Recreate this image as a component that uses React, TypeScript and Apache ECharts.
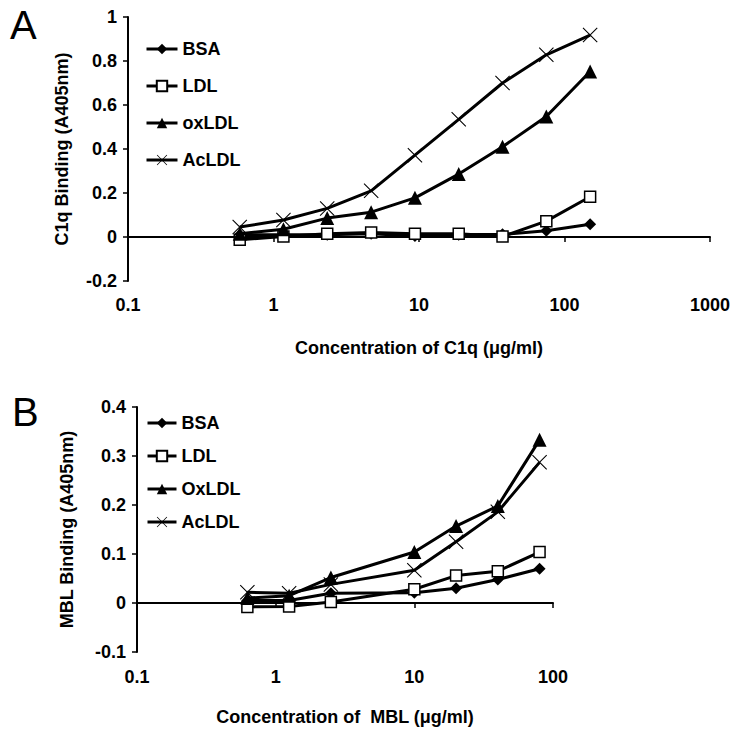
import React, { useEffect, useRef } from "react";
import * as echarts from "echarts";

const concA = [0.586, 1.17, 2.34, 4.69, 9.38, 18.75, 37.5, 75, 150];
const bsaA = [0.01, 0.01, 0.01, 0.015, 0.005, 0.01, 0.012, 0.028, 0.058];
const ldlA = [-0.012, 0.002, 0.015, 0.02, 0.015, 0.015, 0.002, 0.072, 0.183];
const oxA = [0.015, 0.035, 0.086, 0.113, 0.178, 0.286, 0.41, 0.548, 0.752];
const acA = [0.045, 0.077, 0.13, 0.21, 0.372, 0.535, 0.7, 0.828, 0.918];

const concB = [0.625, 1.25, 2.5, 10, 20, 40, 80];
const bsaB = [0.005, 0.005, 0.02, 0.021, 0.03, 0.048, 0.07];
const ldlB = [-0.008, -0.007, 0.002, 0.028, 0.056, 0.065, 0.104];
const oxB = [0.01, 0.015, 0.052, 0.104, 0.157, 0.198, 0.333];
const acB = [0.022, 0.02, 0.038, 0.067, 0.125, 0.186, 0.287];

const namesA = ["BSA", "LDL", "oxLDL", "AcLDL"];
const namesB = ["BSA", "LDL", "OxLDL", "AcLDL"];

const FONT = "'Liberation Sans', Arial, sans-serif";
const X_PATH =
  "path://M0,1L1,0L10,9L19,0L20,1L11,10L20,19L19,20L10,11L1,20L0,19L9,10Z";

function mk(name: string, xs: number[], ys: number[], idx: number, kind: string) {
  const base: any = {
    name,
    type: "line",
    xAxisIndex: idx,
    yAxisIndex: idx,
    data: xs.map((x, i) => [x, ys[i]]),
    lineStyle: { color: "#000", width: 3 },
    showSymbol: true,
    z: 3,
  };
  if (kind === "diamond") {
    base.symbol = "diamond";
    base.symbolSize = 12;
    base.itemStyle = { color: "#000", borderColor: "#000", borderWidth: 0 };
  } else if (kind === "square") {
    base.symbol = "rect";
    base.symbolSize = 11;
    base.itemStyle = { color: "#fff", borderColor: "#000", borderWidth: 1.5 };
  } else if (kind === "triangle") {
    base.symbol = "triangle";
    base.symbolSize = 14;
    base.itemStyle = { color: "#000", borderColor: "#000", borderWidth: 0 };
  } else {
    base.symbol = X_PATH;
    base.symbolSize = 15;
    base.itemStyle = { color: "#000", borderColor: "#000", borderWidth: 0 };
  }
  return base;
}

const kinds = ["diamond", "square", "triangle", "cross"];

export default function App() {
  const ref = useRef<HTMLDivElement>(null);
  useEffect(() => {
    document.body.style.margin = "0";
    const chart = echarts.init(ref.current!, null, { renderer: "svg" });
    const axisLabel = {
      fontFamily: FONT,
      fontWeight: "bold",
      fontSize: 18,
      color: "#000",
    };
    const nameStyle = {
      fontFamily: FONT,
      fontWeight: "bold",
      fontSize: 18,
      color: "#000",
    };
    const legendText = {
      fontFamily: FONT,
      fontWeight: "bold",
      fontSize: 18,
      color: "#000",
      lineHeight: 20,
    };
    const xAxisCommon = (gi: number, max: number, name: string, labelMargin: number, nameGap: number) => ({
      type: "log",
      gridIndex: gi,
      logBase: 10,
      min: 0.1,
      max,
      name,
      nameLocation: "middle",
      nameGap,
      nameTextStyle: nameStyle,
      axisLine: { show: true, onZero: true, lineStyle: { color: "#000", width: 2 } },
      axisTick: { show: true, length: 5, lineStyle: { color: "#000", width: 1.5 } },
      minorTick: { show: false },
      splitLine: { show: false },
      axisLabel: {
        ...axisLabel,
        margin: labelMargin,
        formatter: (v: number) => String(Number(v.toPrecision(3))),
      },
    });
    const yAxisCommon = (gi: number, min: number, max: number, interval: number, name: string, nameGap: number) => ({
      type: "value",
      gridIndex: gi,
      position: "left",
      min,
      max,
      interval,
      name,
      nameLocation: "middle",
      nameGap,
      nameTextStyle: nameStyle,
      axisLine: { show: true, onZero: false, lineStyle: { color: "#000", width: 2 } },
      axisTick: { show: true, length: 5, lineStyle: { color: "#000", width: 1.5 } },
      splitLine: { show: false },
      axisLabel: {
        ...axisLabel,
        margin: 11,
        formatter: (v: number) => String(Number(v.toFixed(2))),
      },
    });

    const series = [
      mk(namesA[0], concA, bsaA, 0, kinds[0]),
      mk(namesA[1], concA, ldlA, 0, kinds[1]),
      mk(namesA[2], concA, oxA, 0, kinds[2]),
      mk(namesA[3], concA, acA, 0, kinds[3]),
      mk(namesB[0], concB, bsaB, 1, kinds[0]),
      mk(namesB[1], concB, ldlB, 1, kinds[1]),
      mk(namesB[2], concB, oxB, 1, kinds[2]),
      mk(namesB[3], concB, acB, 1, kinds[3]),
    ];

    const legendLine = { color: "#000", width: 3 };

    chart.setOption({
      animation: false,
      backgroundColor: "#fff",
      grid: [
        { left: 128, top: 17, width: 582, height: 264, outerBoundsMode: "none", containLabel: false },
        { left: 137, top: 407, width: 416, height: 245, outerBoundsMode: "none", containLabel: false },
      ],
      xAxis: [
        xAxisCommon(0, 1000, "Concentration of C1q (\u03bcg/ml)", 15, 58),
        xAxisCommon(1, 100, "Concentration of  MBL (\u03bcg/ml)", 16, 56),
      ],
      yAxis: [
        yAxisCommon(0, -0.2, 1, 0.2, "C1q Binding (A405nm)", 57),
        yAxisCommon(1, -0.1, 0.4, 0.1, "MBL Binding (A405nm)", 61),
      ],
      legend: [
        {
          orient: "vertical",
          left: 140,
          top: 34,
          itemWidth: 31,
          itemHeight: 13,
          itemGap: 17,
          selectedMode: false,
          textStyle: legendText,
          lineStyle: legendLine,
          data: namesA,
        },
        {
          orient: "vertical",
          left: 141,
          top: 408,
          itemWidth: 29,
          itemHeight: 13,
          itemGap: 13,
          selectedMode: false,
          textStyle: legendText,
          lineStyle: legendLine,
          data: namesB,
        },
      ],
      graphic: [
        {
          type: "text",
          left: 10,
          top: 5,
          style: { text: "A", font: `normal 40px ${FONT}`, fill: "#000" },
        },
        {
          type: "text",
          left: 12,
          top: 392,
          style: { text: "B", font: `normal 40px ${FONT}`, fill: "#000" },
        },
      ],
      series,
    });
    return () => chart.dispose();
  }, []);
  return <div ref={ref} style={{ width: 741, height: 736 }} />;
}
